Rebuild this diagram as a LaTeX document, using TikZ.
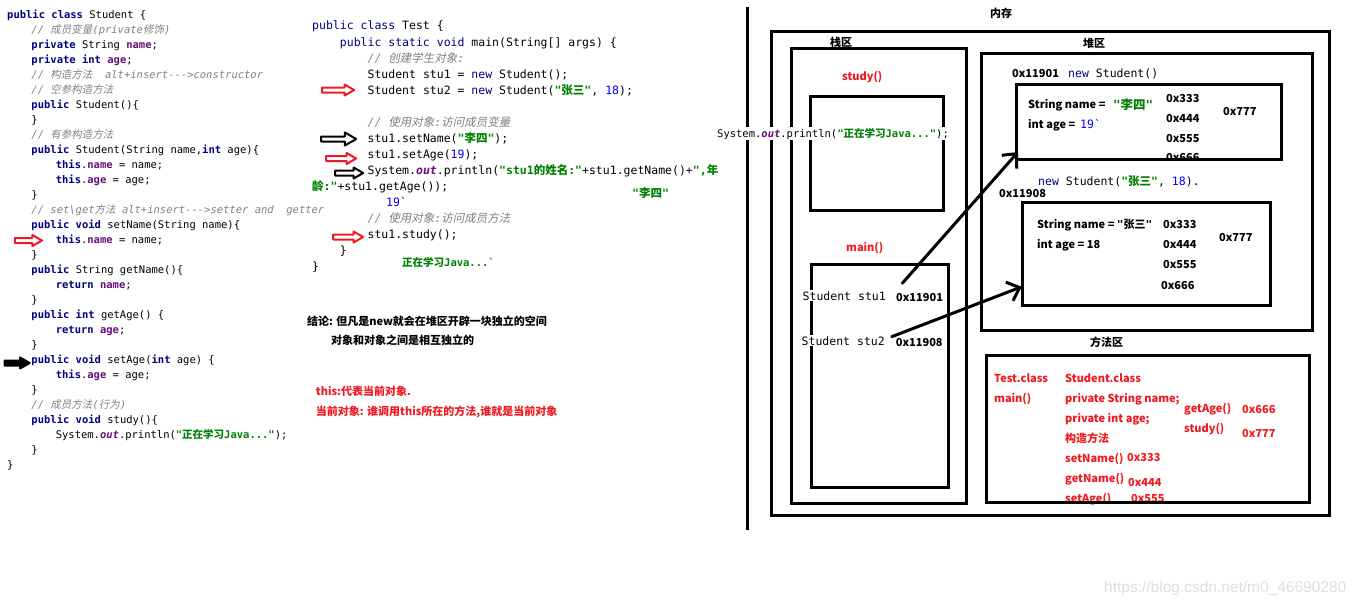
\documentclass[tikz,border=0pt]{standalone}
\usepackage{fontspec}
\setmainfont{Noto Sans CJK SC}
\setmonofont{DejaVu Sans Mono}
\newfontfamily\zhfont{Noto Sans CJK SC}[AutoFakeSlant=0.2]
\newfontfamily\wmfont{Liberation Sans}
\usetikzlibrary{arrows.meta, shapes.arrows}

\definecolor{kwblue}{RGB}{0,0,128}
\definecolor{fieldpurple}{RGB}{102,14,122}
\definecolor{cmtgray}{RGB}{128,128,128}
\definecolor{strgreen}{RGB}{0,128,0}
\definecolor{numblue}{RGB}{0,0,255}
\definecolor{markred}{RGB}{237,28,36}
\definecolor{notered}{RGB}{240,24,30}
\definecolor{wmgray}{RGB}{222,222,222}

\newcommand{\zh}[1]{{\zhfont #1}}
\newcommand{\kw}[1]{\textcolor{kwblue}{\textbf{#1}}}
\newcommand{\kwn}[1]{\textcolor{kwblue}{#1}}
\newcommand{\fd}[1]{\textcolor{fieldpurple}{\textbf{#1}}}
\newcommand{\cm}[1]{\textcolor{cmtgray}{\textit{#1}}}
\newcommand{\st}[1]{\textcolor{strgreen}{\textbf{#1}}}
\newcommand{\nm}[1]{\textcolor{numblue}{#1}}
\newcommand{\q}{\texttt{"}}
\newcommand{\ltab}{\hspace*{24.3pt}}
\newcommand{\tab}{\hspace*{2.41em}}

\begin{document}
\begin{tikzpicture}[x=1pt, y=-1pt, line cap=round, line join=round,
	code/.style={anchor=base west, inner sep=0, align=left,
		font=\ttfamily\fontsize{10.5}{15}\selectfont},
	testcode/.style={code, font=\ttfamily\fontsize{11.5}{16.05}\selectfont},
	lbl/.style={anchor=base west, inner sep=0, font=\bfseries\fontsize{11}{13}\selectfont},
	redlbl/.style={lbl, text=notered},
	memframe/.style={draw, line width=3pt, line cap=butt, line join=miter, inner sep=0, outer sep=0},
	ptr/.style={line width=3pt, -{Straight Barb[length=11pt, width=20pt, line width=3pt]}},
	hollow/.style={single arrow, draw=#1, line width=2pt, inner sep=1.5pt,
		single arrow head extend=3pt, single arrow tip angle=60}]

\useasboundingbox (0,0) rectangle (1360,605);

% ==== Left: class Student ====
% (a multi-line node sits on the baseline of its last line)
\node[code] (student) at (7,468) {%
	\kw{public class} Student \{\\
	\ltab\cm{// \zh{成员变量}(private\zh{修饰})}\\
	\ltab\kw{private} String \fd{name};\\
	\ltab\kw{private int} \fd{age};\\
	\ltab\cm{// \zh{构造方法}\ \ alt+insert--->constructor}\\
	\ltab\cm{// \zh{空参构造方法}}\\
	\ltab\kw{public} Student()\{\\
	\ltab\}\\
	\ltab\cm{// \zh{有参构造方法}}\\
	\ltab\kw{public} Student(String name,\kw{int} age)\{\\
	\ltab\ltab\kw{this}.\fd{name} = name;\\
	\ltab\ltab\kw{this}.\fd{age} = age;\\
	\ltab\}\\
	\ltab\cm{// set\textbackslash get\zh{方法} alt+insert--->setter and\ \ getter}\\
	\ltab\kw{public void} setName(String name)\{\\
	\ltab\ltab\kw{this}.\fd{name} = name;\\
	\ltab\}\\
	\ltab\kw{public} String getName()\{\\
	\ltab\ltab\kw{return} \fd{name};\\
	\ltab\}\\
	\ltab\kw{public int} getAge() \{\\
	\ltab\ltab\kw{return} \fd{age};\\
	\ltab\}\\
	\ltab\kw{public void} setAge(\kw{int} age) \{\\
	\ltab\ltab\kw{this}.\fd{age} = age;\\
	\ltab\}\\
	\ltab\cm{// \zh{成员方法}(\zh{行为})}\\
	\ltab\kw{public void} study()\{\\
	\ltab\ltab System.\fd{\textit{out}}.println(\st{"\zh{正在学习}Java..."});\\
	\ltab\}\\
	\}};
\node[hollow=markred, minimum height=27pt] (arrSetName) at (26.3,240.5) {};
\node[hollow=black, fill=black, minimum height=25pt] (arrSetAge) at (15,363) {};

% ==== Middle: class Test ====
\node[testcode] (test) at (312,270.7) {%
	\kwn{public class} Test \{\\
	\tab\kwn{public static void} main(String[] args) \{\\
	\tab\tab\cm{// \zh{创建学生对象}:}\\
	\tab\tab Student stu1 = \kwn{new} Student();\\
	\tab\tab Student stu2 = \kwn{new} Student(\st{"\zh{张三}"}, \nm{18});\\
	\mbox{}\\
	\tab\tab\cm{// \zh{使用对象}:\zh{访问成员变量}}\\
	\tab\tab stu1.setName(\st{"\zh{李四}"});\\
	\tab\tab stu1.setAge(\nm{19});\\
	\tab\tab System.\fd{\textit{out}}.println(\st{"stu1\zh{的姓名}:"}+stu1.getName()+\st{",\zh{年}}\\
	\st{\zh{龄}:"}+stu1.getAge());\\
	\mbox{}\\
	\tab\tab\cm{// \zh{使用对象}:\zh{访问成员方法}}\\
	\tab\tab stu1.study();\\
	\tab\}\\
	\}};
\node[testcode, text=numblue] (ageOut) at (386,206.5) {19`};
\node[testcode] (nameOut) at (632,197.5) {\st{"\zh{李四}"}};
\node[code] (studyOut) at (402,266.5) {\st{\zh{正在学习}Java...`}};

\node[hollow=markred, minimum height=32pt] (arrStu2) at (336,90) {};
\node[hollow=black, minimum height=35pt, single arrow head extend=4pt] (arrName) at (336.5,139) {};
\node[hollow=markred, minimum height=30pt] (arrAge) at (339,158.5) {};
\node[hollow=black, minimum height=28pt] (arrPrint) at (347,173) {};
\node[hollow=markred, minimum height=30pt] (arrStudy) at (346,237) {};

% conclusions
\node[lbl] (concl1) at (307,325) {结论: 但凡是new就会在堆区开辟一块独立的空间};
\node[lbl] (concl2) at (331,344.7) {对象和对象之间是相互独立的};
\node[redlbl] (this1) at (315.7,395.7) {this:代表当前对象.};
\node[redlbl] (this2) at (315.7,415) {当前对象: 谁调用this所在的方法,谁就是当前对象};

% divider
\draw[line width=3pt, line cap=butt] (747.5,7) -- (747.5,530);

% ==== Right: memory ====
\node[lbl] (memLbl) at (990,17) {内存};
\draw[memframe] (771.7,31.7) rectangle (1329,515);

% stack
\node[lbl] (stackLbl) at (830,46.5) {栈区};
\draw[memframe] (791.7,48.3) rectangle (966.7,503);
\node[redlbl] (studyLbl) at (842,80.5) {study()};
\draw[memframe] (810,96.7) rectangle (943.3,210.7);
\node[redlbl] (mainLbl) at (846,251.5) {main()};
\draw[memframe] (811.7,264.3) rectangle (948.3,487);
\node[code, fill=white, inner sep=1pt] (printCall) at (716,137.3)
	{System.\fd{\textit{out}}.println(\st{"\zh{正在学习}Java..."});};
\node[testcode, fill=white, inner sep=1pt] (stu1Var) at (801.5,300) {Student stu1};
\node[lbl] (stu1Addr) at (896,301.3) {0x11901};
\node[testcode, fill=white, inner sep=1pt] (stu2Var) at (800.5,345) {Student stu2};
\node[lbl] (stu2Addr) at (895.7,346.3) {0x11908};

% heap
\node[lbl] (heapLbl) at (1083,47) {堆区};
\draw[memframe] (981.7,53.3) rectangle (1312,330);

\node[lbl] (obj1Addr) at (1012,77.5) {0x11901};
\node[testcode] (obj1New) at (1068,77.5) {\kwn{new} Student()};
\node[lbl] (obj1Name) at (1028,108) {String name =};
\node[lbl, text=strgreen, font=\bfseries\fontsize{12.5}{14}\selectfont] (obj1Val) at (1113,109) {\q 李四\q};
\node[lbl] (obj1Age) at (1028,128) {int age =};
\node[testcode, text=numblue] (obj1Num) at (1080,128) {19`};
\node[lbl] (obj1M1) at (1166,102.3) {0x333};
\node[lbl] (obj1M2) at (1166,122.3) {0x444};
\node[lbl] (obj1M3) at (1166,142.3) {0x555};
\node[lbl] (obj1M4) at (1166,161.3) {0x666};
\node[lbl] (obj1M7) at (1223,115) {0x777};
\node[memframe, minimum width=265pt, minimum height=75pt] (obj1) at (1149.2,121.8) {};

\node[testcode] (obj2New) at (1038,185) {\kwn{new} Student(\st{"\zh{张三}"}, \nm{18}).};
\node[lbl] (obj2Addr) at (999,197) {0x11908};
\node[lbl] (obj2Name) at (1037,228) {String name = \q 张三\q};
\node[lbl] (obj2Age) at (1037,248) {int age = 18};
\node[lbl] (obj2M1) at (1163,228) {0x333};
\node[lbl] (obj2M2) at (1163,248) {0x444};
\node[lbl] (obj2M3) at (1163,268) {0x555};
\node[lbl] (obj2M4) at (1161,289) {0x666};
\node[lbl] (obj2M7) at (1219,241) {0x777};
\node[memframe, minimum width=247.3pt, minimum height=102.7pt] (obj2) at (1146.4,253.7) {};

% references stack -> heap
\coordinate (stu1Ref) at (902.3,283.3);
\coordinate (stu2Ref) at (891.7,336.7);
\draw[ptr] (stu1Ref) -- ([xshift=1.3pt, yshift=7.3pt]obj1.south west);
\draw[ptr] (stu2Ref) -- ([xshift=-1pt, yshift=18.3pt]obj2.south west);

% method area
\node[lbl] (methodLbl) at (1090,346) {方法区};
\node[redlbl] (testCls) at (994,382) {Test.class};
\node[redlbl] (testMain) at (994,402) {main()};
\node[redlbl] (stuCls) at (1065,382) {Student.class};
\node[redlbl] (fieldName) at (1065,402) {private String name;};
\node[redlbl] (fieldAge) at (1065,422) {private int age;};
\node[redlbl] (ctorLbl) at (1065,442) {构造方法};
\node[redlbl] (setNameM) at (1065,462) {setName()};
\node[redlbl] (setNameA) at (1127,461) {0x333};
\node[redlbl] (getNameM) at (1065,482) {getName()};
\node[redlbl] (getNameA) at (1128,486) {0x444};
\node[redlbl] (setAgeM) at (1065,502) {setAge()};
\node[redlbl] (setAgeA) at (1131,502) {0x555};
\node[redlbl] (getAgeM) at (1184,412) {getAge()};
\node[redlbl] (getAgeA) at (1242,413) {0x666};
\node[redlbl] (studyM) at (1184,432) {study()};
\node[redlbl] (studyA) at (1242,437) {0x777};
\draw[memframe] (986,355) rectangle (1309,502);

\node[anchor=base west, inner sep=0, text=wmgray, font=\wmfont\fontsize{15.5}{18}\selectfont]
	(watermark) at (1104,592) {https://blog.csdn.net/m0\_46690280};

\end{tikzpicture}
\end{document}
